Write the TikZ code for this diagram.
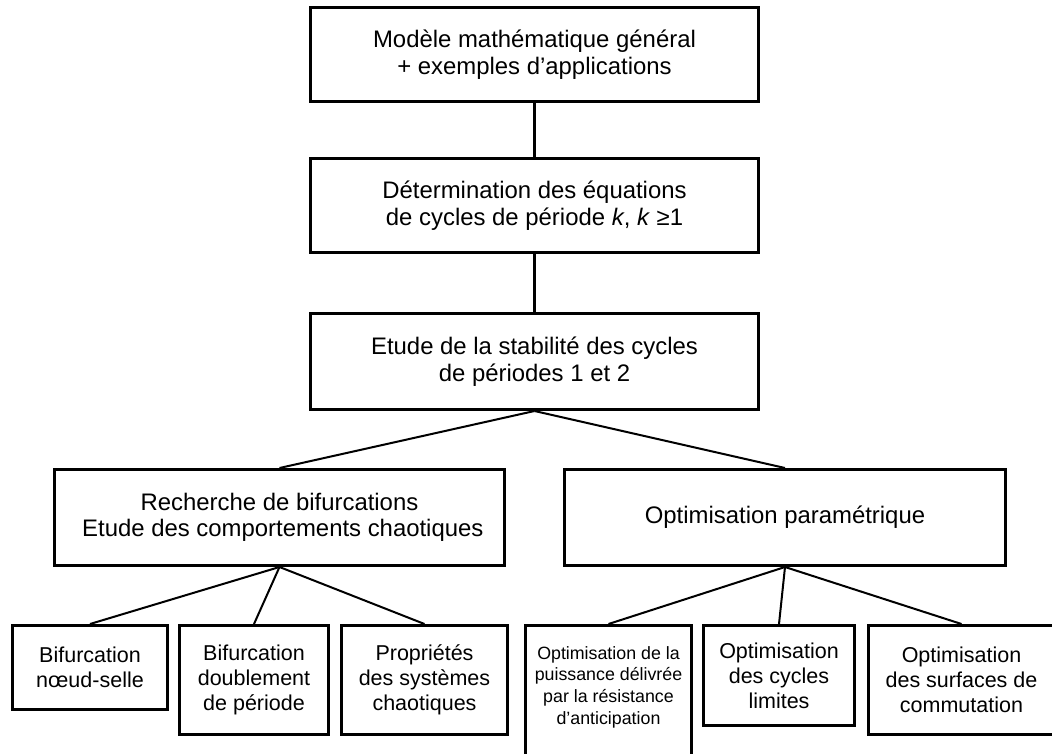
\documentclass[tikz,border=0pt]{standalone}
\usepackage{fontspec}
\setmainfont{Liberation Sans}
\begin{document}
\begin{tikzpicture}[x=1pt,y=-1pt,
  box/.style={draw=black,line width=3pt,rectangle,align=center,inner sep=0pt,
    font=\fontsize{23.9}{26.5}\selectfont},
  smallbox/.style={box,font=\fontsize{21.5}{25}\selectfont},
  tinytext/.style={align=center,inner sep=0pt,font=\fontsize{17.8}{21.7}\selectfont},
  thickline/.style={line width=3pt},
  thinline/.style={line width=2pt}]
\useasboundingbox (0,0) rectangle (1052,754);
\clip (0,0) rectangle (1052,754);
\node[box,minimum width=448,minimum height=94] (b1) at (534.5,54.5)
  {Modèle mathématique général\\+ exemples d’applications};
\node[box,minimum width=448,minimum height=94] (b2) at (534.5,205.5)
  {Détermination des équations\\de cycles de période \textit{k}, \textit{k} ≥1};
\node[box,minimum width=448,minimum height=96] (b3) at (534.5,361.5)
  {Etude de la stabilité des cycles\\de périodes 1 et 2};
\node[box,minimum width=450,minimum height=96] (b4) at (279.5,517.5)
  {Recherche de bifurcations\\\ Etude des comportements chaotiques};
\node[box,minimum width=441,minimum height=96] (b5) at (785,517.5)
  {Optimisation paramétrique};
\node[smallbox,minimum width=155,minimum height=84] (b6) at (90,667.5)
  {Bifurcation\\nœud-selle};
\node[smallbox,minimum width=149,minimum height=109] (b7) at (254,680)
  {Bifurcation\\doublement\\de période};
\node[smallbox,minimum width=166,minimum height=109] (b8) at (424.5,680)
  {Propriétés\\des systèmes\\chaotiques};
\node[box,minimum width=166,minimum height=153] (b9) at (608.5,702) {};
\node[tinytext] (b9t) at (608.5,687)
  {Optimisation de la\\puissance délivrée\\par la résistance\\d’anticipation};
\node[smallbox,minimum width=151,minimum height=100] (b10) at (779,675.5)
  {Optimisation\\des cycles\\limites};
\node[smallbox,minimum width=186,minimum height=109] (b11) at (961.5,680)
  {Optimisation\\des surfaces de\\commutation};
\draw[thickline] (b1.south) -- (b2.north);
\draw[thickline] (b2.south) -- (b3.north);
\draw[thinline] (b3.south) -- (b4.north);
\draw[thinline] (b3.south) -- (b5.north);
\draw[thinline] (b4.south) -- (b6.north);
\draw[thinline] (b4.south) -- (b7.north);
\draw[thinline] (b4.south) -- (b8.north);
\draw[thinline] (b5.south) -- (b9.north);
\draw[thinline] (b5.south) -- (b10.north);
\draw[thinline] (b5.south) -- (b11.north);
\end{tikzpicture}
\end{document}
